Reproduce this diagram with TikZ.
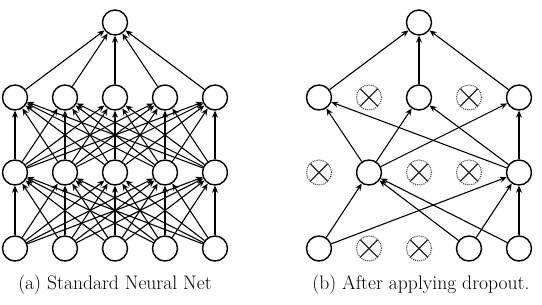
\documentclass[tikz,border=0pt]{standalone}
\usetikzlibrary{arrows.meta}
\begin{document}
\begin{tikzpicture}[x=1pt,y=-1pt,
  neuron/.style={circle,draw,line width=1.4pt,minimum size=25pt,inner sep=0pt,fill=white},
  dropnode/.style={circle,draw=black!70,densely dotted,line width=1.1pt,minimum size=25pt,inner sep=0pt,
    path picture={\draw[solid,line width=1.2pt,black!85] (path picture bounding box.north west) -- (path picture bounding box.south east)
      (path picture bounding box.north east) -- (path picture bounding box.south west);}},
  conn/.style={-{Stealth[length=7pt,width=6pt]},line width=1.1pt},
  caption/.style={font=\fontsize{19.6}{23}\selectfont,inner sep=0pt,anchor=base}]
\useasboundingbox (0,0) rectangle (542,305);
% ---------- (a) standard net ----------
\node[neuron] (a1) at (115,22.5) {};
\foreach \c/\x in {1/15,2/65,3/115,4/165,5/215}{
  \node[neuron] (a2\c) at (\x,97.5) {};
  \node[neuron] (a3\c) at (\x,172.5) {};
  \node[neuron] (a4\c) at (\x,248.5) {};
}
\foreach \i in {1,...,5}{
  \draw[conn] (a2\i) -- (a1);
  \foreach \j in {1,...,5}{
    \draw[conn] (a3\i) -- (a2\j);
    \draw[conn] (a4\i) -- (a3\j);
  }
}
\node[caption] (capa) at (115,289) {(a) Standard Neural Net};
% ---------- (b) dropout ----------
\node[neuron] (b1) at (419,22.5) {};
\node[neuron] (b21) at (319,97.5) {};
\node[dropnode] (b22) at (369,97.5) {};
\node[neuron] (b23) at (419,97.5) {};
\node[dropnode] (b24) at (469,97.5) {};
\node[neuron] (b25) at (519,97.5) {};
\node[dropnode] (b31) at (319,172.5) {};
\node[neuron] (b32) at (369,172.5) {};
\node[dropnode] (b33) at (419,172.5) {};
\node[dropnode] (b34) at (469,172.5) {};
\node[neuron] (b35) at (519,172.5) {};
\node[neuron] (b41) at (319,248.5) {};
\node[dropnode] (b42) at (369,248.5) {};
\node[dropnode] (b43) at (419,248.5) {};
\node[neuron] (b44) at (469,248.5) {};
\node[neuron] (b45) at (519,248.5) {};
\foreach \i in {1,3,5}{
  \draw[conn] (b2\i) -- (b1);
  \foreach \j in {2,5}{
    \draw[conn] (b3\j) -- (b2\i);
  }
}
\foreach \i in {1,4,5}{
  \foreach \j in {2,5}{
    \draw[conn] (b4\i) -- (b3\j);
  }
}
\node[caption] (capb) at (421,289) {(b) After applying dropout.};
\end{tikzpicture}
\end{document}
